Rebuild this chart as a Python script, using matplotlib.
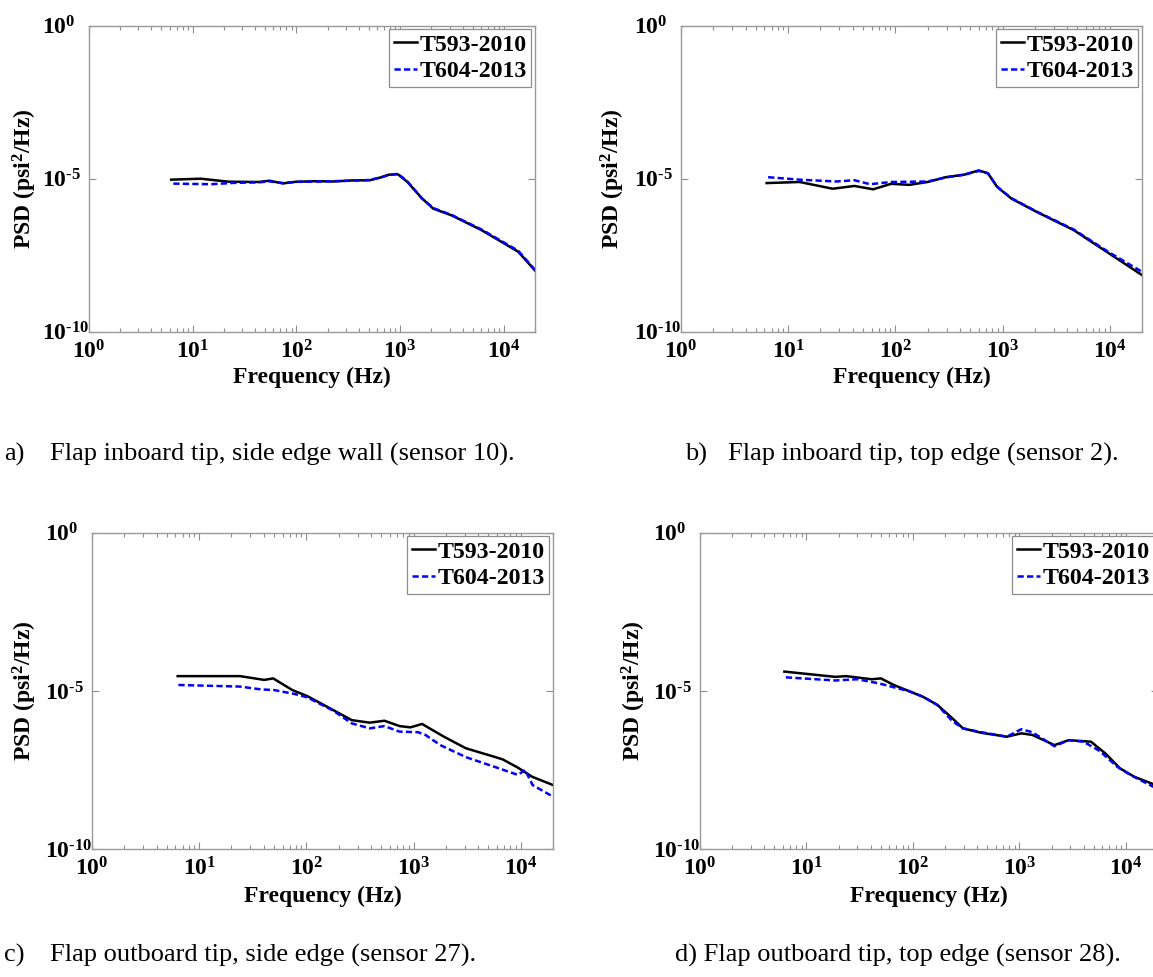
import numpy as np
import matplotlib
matplotlib.use('Agg')
import matplotlib.pyplot as plt
from matplotlib.ticker import LogLocator, NullLocator, NullFormatter

plt.rcParams['font.family'] = 'Liberation Serif'
plt.rcParams['font.weight'] = 'bold'
plt.rcParams['mathtext.fontset'] = 'custom'
plt.rcParams['mathtext.rm'] = 'Liberation Serif:bold'
plt.rcParams['mathtext.it'] = 'Liberation Serif:italic:bold'
plt.rcParams['mathtext.bf'] = 'Liberation Serif:bold'

# ---- data (frequency in Hz, PSD in psi^2/Hz) ----
# a) Flap inboard tip, side edge wall (sensor 10)
freq_a_t593 = [6.2, 12, 22, 43, 55, 74, 98, 150, 223, 350, 510, 650, 775, 950, 1170, 1620, 2090, 3150, 6080, 13800, 20000]
psd_a_t593 = [9.3e-6, 1.0e-5, 8.0e-6, 7.8e-6, 8.6e-6, 7.0e-6, 7.9e-6, 8.3e-6, 8.1e-6, 8.8e-6, 8.9e-6, 1.1e-5, 1.35e-5, 1.4e-5,
              8.0e-6, 2.3e-6, 1.05e-6, 6.3e-7, 2.1e-7, 4.1e-8, 1.0e-8]
freq_a_t604 = [6.5, 15, 25, 43, 55, 74, 98, 150, 223, 350, 510, 650, 775, 950, 1170, 1620, 2090, 3150, 6080, 13800, 20000]
psd_a_t604 = [6.9e-6, 6.6e-6, 7.3e-6, 7.6e-6, 8.2e-6, 7.2e-6, 7.9e-6, 8.0e-6, 8.3e-6, 8.6e-6, 9.1e-6, 1.1e-5, 1.3e-5, 1.45e-5,
              8.3e-6, 2.3e-6, 1.1e-6, 6.5e-7, 2.2e-7, 4.4e-8, 1.05e-8]

# b) Flap inboard tip, top edge (sensor 2)
freq_b_t593 = [6.3, 12.8, 26, 41.5, 62, 91, 135, 200, 295, 437, 600, 730, 890, 1210, 2100, 4600, 10000, 20000]
psd_b_t593 = [7.2e-6, 7.8e-6, 4.7e-6, 5.8e-6, 4.5e-6, 6.8e-6, 6.3e-6, 7.8e-6, 1.12e-5, 1.35e-5, 1.86e-5, 1.51e-5, 5.4e-6,
              2.24e-6, 8.1e-7, 2.1e-7, 3.5e-8, 7.1e-9]
freq_b_t604 = [6.5, 12.8, 28, 41.5, 58, 91, 200, 295, 437, 600, 730, 890, 1210, 2100, 4600, 10000, 20000]
psd_b_t604 = [1.12e-5, 9.3e-6, 8.1e-6, 8.9e-6, 6.6e-6, 7.8e-6, 8.1e-6, 1.1e-5, 1.35e-5, 1.8e-5, 1.5e-5, 5.5e-6, 2.3e-6,
              8.3e-7, 2.2e-7, 3.8e-8, 9.1e-9]

# c) Flap outboard tip, side edge (sensor 27)
freq_c_t593 = [6.3, 24, 40.5, 49, 74, 102, 178, 265, 390, 535, 740, 935, 1200, 1920, 3080, 5850, 6800, 9400, 12800, 20000]
psd_c_t593 = [2.95e-5, 2.95e-5, 2.24e-5, 2.5e-5, 1.07e-5, 6.9e-6, 2.5e-6, 1.2e-6, 1.0e-6, 1.15e-6, 7.8e-7, 7.1e-7, 9.1e-7,
              3.6e-7, 1.55e-7, 8.1e-8, 6.9e-8, 3.8e-8, 1.95e-8, 1.07e-8]
freq_c_t604 = [6.4, 24, 38, 50, 77, 102, 178, 265, 390, 535, 740, 1100, 1290, 1780, 3090, 5850, 9400, 11000, 12900, 20000]
psd_c_t604 = [1.55e-5, 1.38e-5, 1.12e-5, 1.07e-5, 8.1e-6, 6.3e-6, 2.4e-6, 9.5e-7, 6.6e-7, 7.8e-7, 5.2e-7, 5.0e-7, 4.1e-7,
              1.95e-7, 8.1e-8, 3.9e-8, 2.24e-8, 3.2e-8, 1.07e-8, 4.6e-9]

# d) Flap outboard tip, top edge (sensor 28)
freq_d_t593 = [6.2, 18.6, 23.6, 41, 50, 66, 91, 124, 170, 234, 295, 437, 760, 1040, 1320, 2130, 2900, 4700, 6400, 8800,
               12000, 20000]
psd_d_t593 = [4.1e-5, 2.8e-5, 2.95e-5, 2.35e-5, 2.5e-5, 1.55e-5, 1.0e-5, 6.6e-6, 3.6e-6, 1.38e-6, 6.6e-7, 4.8e-7, 3.6e-7,
              4.6e-7, 4.1e-7, 1.95e-7, 2.8e-7, 2.5e-7, 1.07e-7, 3.6e-8, 1.95e-8, 1.0e-8]
freq_d_t604 = [6.4, 18.6, 30, 48, 71, 91, 124, 170, 234, 295, 437, 760, 1040, 1320, 2130, 2900, 4000, 5700, 8300, 11000,
               20000]
psd_d_t604 = [2.7e-5, 2.15e-5, 2.35e-5, 1.74e-5, 1.23e-5, 1.0e-5, 6.6e-6, 3.6e-6, 1.12e-6, 6.6e-7, 5.0e-7, 3.6e-7, 6.2e-7,
              5.0e-7, 1.8e-7, 2.8e-7, 2.5e-7, 1.26e-7, 4.0e-8, 2.24e-8, 7.9e-9]

series_names = ['T593-2010', 'T604-2013']
xticks = [1, 10, 100, 1000, 10000]
xtick_labels = ['$10^{0}$', '$10^{1}$', '$10^{2}$', '$10^{3}$', '$10^{4}$']
yticks = [1e-10, 1e-5, 1]
ytick_labels = ['$10^{\\text{-}10}$', '$10^{\\text{-}5}$', '$10^{0}$']
captions = [('a)', 'Flap inboard tip, side edge wall (sensor 10).'),
            ('b)', 'Flap inboard tip, top edge (sensor 2).'),
            ('c)', 'Flap outboard tip, side edge (sensor 27).'),
            ('', 'd) Flap outboard tip, top edge (sensor 28).')]

panels = [(freq_a_t593, psd_a_t593, freq_a_t604, psd_a_t604),
          (freq_b_t593, psd_b_t593, freq_b_t604, psd_b_t604),
          (freq_c_t593, psd_c_t593, freq_c_t604, psd_c_t604),
          (freq_d_t593, psd_d_t593, freq_d_t604, psd_d_t604)]

W, H = 1153, 977
fig = plt.figure(figsize=(W / 100, H / 100), dpi=100)

# axes boxes in pixels: left, top, right, bottom
boxes = [(89, 25.7, 535, 331.7), (681, 25.7, 1142, 331.7),
         (92, 532.7, 553, 849.3), (700, 532.7, 1158, 849.3)]
ylabel_x = [-0.112, -0.117, -0.115, -0.114]
caption_pos = [(4, 50, 454), (685, 728, 454), (4, 50, 955), (675, 675, 955)]

for i, (f1, p1, f2, p2) in enumerate(panels):
    l, t, r, b = boxes[i]
    ax = fig.add_axes([l / W, 1 - b / H, (r - l) / W, (b - t) / H])
    ax.plot(f1, p1, color='black', lw=1.8, label=series_names[0])
    ax.plot(f2, p2, color='blue', lw=1.8, ls=(0, (2.5, 1.3)), label=series_names[1])
    ax.set_xscale('log')
    ax.set_yscale('log')
    ax.set_xlim(1, 2e4)
    ax.set_ylim(1e-10, 1)
    ax.set_xticks(xticks)
    ax.set_xticklabels(xtick_labels)
    ax.xaxis.set_minor_locator(LogLocator(base=10, subs=np.arange(2, 10), numticks=20))
    ax.xaxis.set_minor_formatter(NullFormatter())
    ax.set_yticks(yticks)
    ax.set_yticklabels(ytick_labels)
    ax.yaxis.set_minor_locator(NullLocator())
    ax.tick_params(which='both', direction='in', top=True, right=True, color='0.55', width=0.8, labelsize=17)
    ax.tick_params(which='major', length=5)
    ax.tick_params(which='minor', length=3)
    ax.tick_params(axis='x', pad=6)
    ax.tick_params(axis='y', pad=34)
    plt.setp(ax.get_yticklabels(), ha='left')
    for sp in ax.spines.values():
        sp.set_color('0.6')
        sp.set_linewidth(1.0)
    ax.set_xlabel('Frequency (Hz)', fontsize=17, fontweight='bold')
    ax.xaxis.set_label_coords(0.5, -0.115)
    ax.set_ylabel('PSD (psi$^{2}$/Hz)', fontsize=17, fontweight='bold')
    ax.yaxis.set_label_coords(ylabel_x[i], 0.5)
    leg = ax.legend(loc='upper right', fontsize=17.2, fancybox=False, edgecolor='0.55', framealpha=1,
                    handlelength=0.95, handletextpad=0.1, borderpad=0.2, labelspacing=0.2, borderaxespad=0.15)
    leg.get_frame().set_linewidth(0.9)

    tag, text = captions[i]
    xa, xb, yc = caption_pos[i]
    if tag:
        fig.text(xa / W, 1 - yc / H, tag, fontsize=19, fontweight='normal', va='center')
    fig.text(xb / W, 1 - yc / H, text, fontsize=19, fontweight='normal', va='center')

fig.savefig('out.png', dpi=100)
